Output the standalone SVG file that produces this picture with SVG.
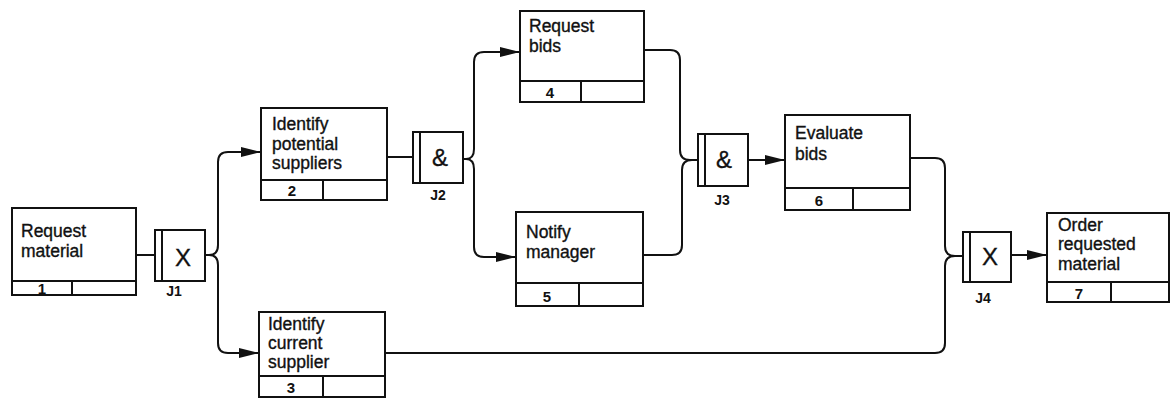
<svg xmlns="http://www.w3.org/2000/svg" width="1173" height="398" viewBox="0 0 1173 398">
<style>
.box{fill:#fff;stroke:#111;stroke-width:2}
.ln{fill:none;stroke:#111;stroke-width:2}
.t{font-family:"Liberation Sans",Arial,sans-serif;font-size:17.5px;fill:#111;stroke:#111;stroke-width:0.35}
.n{font-family:"Liberation Sans",Arial,sans-serif;font-size:15px;font-weight:bold;fill:#111;text-anchor:middle}
.jl{font-family:"Liberation Sans",Arial,sans-serif;font-size:14px;font-weight:bold;fill:#111;text-anchor:middle}
.j{font-family:"Liberation Sans",Arial,sans-serif;font-size:24px;fill:#111;stroke:#111;stroke-width:0.3;text-anchor:middle}
.c{fill:none;stroke:#111;stroke-width:2}
</style>
<defs>
<marker id="ah" markerUnits="userSpaceOnUse" markerWidth="20" markerHeight="10" refX="19" refY="5" orient="auto">
<path d="M0,0 L20,5 L0,10 z" fill="#111"/>
</marker>
</defs>
<rect width="1173" height="398" fill="#fff"/>

<g id="connectors">
<path class="c" d="M136,255 H155"/>
<path class="c" d="M205,255 H209 Q218,255 218,245 V162 Q218,152 228,152 H260" marker-end="url(#ah)"/>
<path class="c" d="M209,255 Q218,255 218,265 V343 Q218,353 228,353 H258" marker-end="url(#ah)"/>
<path class="c" d="M387,157 H413"/>
<path class="c" d="M463,159 H466 Q474,159 474,149 V62 Q474,52 484,52 H519" marker-end="url(#ah)"/>
<path class="c" d="M466,159 Q474,159 474,169 V247 Q474,257 484,257 H515" marker-end="url(#ah)"/>
<path class="c" d="M644,50 H670 Q680,50 680,60 V150 Q680,160 690,160 H698"/>
<path class="c" d="M643,255 H672 Q682,255 682,245 V170 Q682,160 692,160"/>
<path class="c" d="M748,160 H784" marker-end="url(#ah)"/>
<path class="c" d="M910,158 H935 Q945,158 945,168 V246 Q945,256 955,256 H963"/>
<path class="c" d="M385,353 H935 Q945,353 945,343 V266 Q945,256 955,256"/>
<path class="c" d="M1011,255 H1046" marker-end="url(#ah)"/>
</g>

<g id="node1">
<rect class="box" x="12" y="208" width="124" height="87"/>
<path class="ln" d="M12,281 H136 M72,281 V295"/>
<text class="t" x="21" y="237">Request</text>
<text class="t" x="21" y="257">material</text>
<text class="n" x="42" y="294">1</text>
</g>

<g id="node2">
<rect class="box" x="261" y="108" width="126" height="92"/>
<path class="ln" d="M261,180 H387 M323,180 V200"/>
<text class="t" x="272" y="130">Identify</text>
<text class="t" x="272" y="150">potential</text>
<text class="t" x="272" y="169">suppliers</text>
<text class="n" x="292" y="196">2</text>
</g>

<g id="node3">
<rect class="box" x="259" y="312" width="126" height="85"/>
<path class="ln" d="M259,376 H385 M323,376 V397"/>
<text class="t" x="268" y="330">Identify</text>
<text class="t" x="268" y="349">current</text>
<text class="t" x="268" y="368">supplier</text>
<text class="n" x="291" y="393">3</text>
</g>

<g id="node4">
<rect class="box" x="520" y="11" width="124" height="91"/>
<path class="ln" d="M520,81 H644 M581,81 V102"/>
<text class="t" x="529" y="32">Request</text>
<text class="t" x="529" y="52">bids</text>
<text class="n" x="550" y="98">4</text>
</g>

<g id="node5">
<rect class="box" x="516" y="212" width="127" height="94"/>
<path class="ln" d="M516,283 H643 M579,283 V306"/>
<text class="t" x="526" y="238">Notify</text>
<text class="t" x="526" y="258">manager</text>
<text class="n" x="547" y="302">5</text>
</g>

<g id="node6">
<rect class="box" x="785" y="115" width="125" height="95"/>
<path class="ln" d="M785,188 H910 M853,188 V210"/>
<text class="t" x="795" y="139">Evaluate</text>
<text class="t" x="795" y="160">bids</text>
<text class="n" x="819" y="206">6</text>
</g>

<g id="node7">
<rect class="box" x="1047" y="213" width="122" height="89"/>
<path class="ln" d="M1047,282 H1169 M1111,282 V302"/>
<text class="t" x="1058" y="231">Order</text>
<text class="t" x="1058" y="250">requested</text>
<text class="t" x="1058" y="270">material</text>
<text class="n" x="1079" y="299">7</text>
</g>

<g id="J1">
<rect class="box" x="155" y="230" width="50" height="51"/>
<path class="ln" d="M162,230 V281"/>
<text class="j" x="183" y="266">X</text>
<text class="jl" x="174" y="296">J1</text>
</g>

<g id="J2">
<rect class="box" x="413" y="132" width="50" height="51"/>
<path class="ln" d="M420,132 V183"/>
<text class="j" x="440" y="166">&amp;</text>
<text class="jl" x="438" y="200">J2</text>
</g>

<g id="J3">
<rect class="box" x="698" y="134" width="50" height="52"/>
<path class="ln" d="M705,134 V186"/>
<text class="j" x="724" y="168">&amp;</text>
<text class="jl" x="722" y="205">J3</text>
</g>

<g id="J4">
<rect class="box" x="963" y="232" width="48" height="50"/>
<path class="ln" d="M970,232 V282"/>
<text class="j" x="990" y="265">X</text>
<text class="jl" x="983" y="303">J4</text>
</g>
</svg>
